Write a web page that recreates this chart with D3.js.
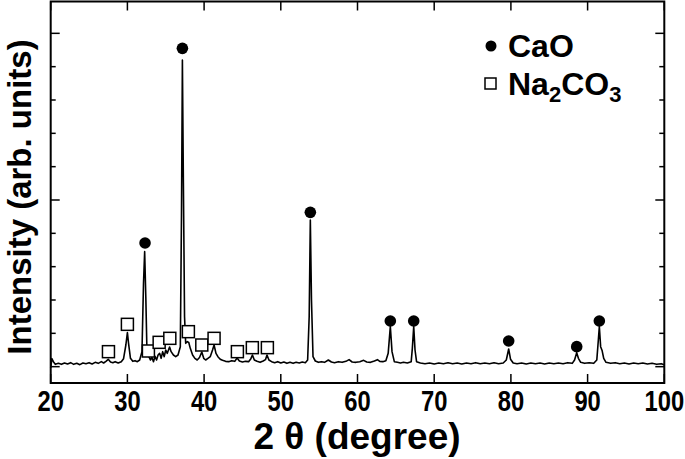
<!DOCTYPE html>
<html>
<head>
<meta charset="utf-8">
<script src="https://cdn.jsdelivr.net/npm/d3@7"></script>
<style>
  body { margin: 0; background: #fff; }
  text { font-family: "Liberation Sans", Arial, sans-serif; font-weight: bold; }
</style>
</head>
<body>
<div class="xrd"></div>
<script>
// XRD scan: [2theta, intensity]
var pattern = [
  [20.0, -8], [20.15, 48], [20.35, 30], [20.6, 14], [21.0, 20], [21.4, 14], [21.8, 22], [22.2, 16],
  [22.6, 24], [23.0, 14], [23.4, 20], [23.8, 12], [24.2, 22], [24.6, 18], [25.0, 24], [25.4, 16],
  [25.8, 26], [26.2, 20], [26.6, 30], [26.9, 22], [27.2, 32], [27.5, 44], [27.8, 28], [28.1, 24],
  [28.4, 30], [28.8, 22], [29.2, 30], [29.5, 48], [29.8, 130], [30.0, 205], [30.15, 140], [30.4, 50],
  [30.7, 32], [31.0, 36], [31.3, 30], [31.6, 40], [31.9, 90], [32.1, 500], [32.25, 690], [32.4, 420],
  [32.55, 90], [32.8, 60], [33.0, 40], [33.2, 55], [33.4, 30], [33.6, 62], [33.8, 40], [34.0, 70],
  [34.2, 80], [34.4, 50], [34.6, 90], [34.8, 60], [35.0, 100], [35.2, 80], [35.5, 118], [35.7, 90],
  [36.0, 70], [36.3, 60], [36.6, 70], [36.9, 120], [37.05, 900], [37.17, 1840], [37.3, 1100], [37.45, 300],
  [37.6, 140], [37.8, 150], [38.0, 145], [38.2, 110], [38.5, 70], [38.8, 50], [39.1, 40], [39.4, 55],
  [39.7, 88], [39.95, 50], [40.2, 40], [40.5, 50], [40.8, 60], [41.1, 100], [41.3, 130], [41.55, 80],
  [41.8, 60], [42.1, 45], [42.4, 38], [42.8, 32], [43.2, 30], [43.6, 36], [44.0, 32], [44.3, 52],
  [44.6, 34], [45.0, 28], [45.4, 32], [45.8, 30], [46.1, 48], [46.3, 70], [46.55, 40], [46.9, 32],
  [47.3, 26], [47.7, 34], [48.0, 42], [48.2, 70], [48.45, 40], [48.8, 30], [49.2, 24], [49.6, 30],
  [50.0, 22], [50.4, 28], [50.8, 20], [51.2, 26], [51.6, 20], [52.0, 26], [52.4, 22], [52.8, 28],
  [53.2, 24], [53.5, 40], [53.7, 300], [53.85, 880], [54.0, 400], [54.2, 60], [54.5, 34], [54.9, 26],
  [55.3, 30], [55.7, 26], [56.2, 40], [56.6, 28], [57.0, 24], [57.5, 30], [58.0, 26], [58.5, 32],
  [58.9, 42], [59.3, 28], [59.8, 26], [60.3, 30], [60.8, 38], [61.2, 28], [61.7, 26], [62.2, 34],
  [62.6, 42], [62.9, 32], [63.3, 30], [63.7, 36], [64.0, 80], [64.28, 240], [64.5, 90], [64.8, 30],
  [65.2, 26], [65.6, 22], [66.0, 26], [66.5, 22], [67.0, 30], [67.15, 110], [67.33, 240], [67.5, 100],
  [67.7, 30], [68.2, 22], [68.8, 18], [69.4, 22], [70.0, 16], [70.6, 22], [71.2, 18], [71.8, 24],
  [72.4, 18], [73.0, 22], [73.6, 16], [74.2, 22], [74.8, 18], [75.4, 24], [76.0, 18], [76.6, 22],
  [77.2, 18], [77.8, 24], [78.4, 18], [79.0, 22], [79.4, 40], [79.71, 106], [79.95, 45], [80.3, 22],
  [80.8, 18], [81.4, 22], [82.0, 16], [82.6, 22], [83.2, 18], [83.8, 22], [84.4, 16], [85.0, 22],
  [85.6, 18], [86.2, 22], [86.8, 18], [87.4, 24], [88.0, 20], [88.3, 40], [88.58, 84], [88.8, 50],
  [89.1, 26], [89.6, 20], [90.2, 24], [90.8, 20], [91.2, 40], [91.4, 160], [91.53, 240], [91.7, 120],
  [91.9, 95], [92.1, 50], [92.4, 26], [93.0, 20], [93.6, 24], [94.2, 18], [94.8, 22], [95.4, 16],
  [96.0, 22], [96.6, 18], [97.2, 22], [97.8, 16], [98.4, 20], [99.0, 14], [99.6, 18], [100.0, 12]
];

// phase markers: [2theta, intensity where the symbol sits]
var caoMarks = [[32.3, 742], [37.17, 1910], [53.85, 926], [64.28, 274], [67.33, 274], [79.71, 154], [88.58, 120], [91.53, 274]];
var na2co3Marks = [[27.53, 90], [30.0, 254], [32.74, 94], [34.14, 146], [35.53, 170], [37.95, 210],
  [39.7, 130], [41.3, 170], [44.34, 90], [46.29, 114], [48.25, 114]];

var xTicks = [20, 30, 40, 50, 60, 70, 80, 90, 100];
var yMajor = [0, 1000, 2000];
var yMinor = [200, 400, 600, 800, 1200, 1400, 1600, 1800];

var width = 685, height = 459;
// plot box (pixels); note: "top" is taken by window.top, so use other names
var plotL = 50.7, plotR = 664.3, plotT = 1.5, plotB = 383;

var svg = d3.select(".xrd")
  .append("svg")
    .attr("width", width)
    .attr("height", height);

var x = d3.scaleLinear().domain([20, 100]).range([plotL, plotR]);
var y = d3.scaleLinear().domain([-98, 2191]).range([plotB, plotT]);

// ticks inside the frame, all four sides
var ticks = svg.append("g").attr("stroke", "#000").attr("stroke-width", 1.5);
xTicks.forEach(function(t){
  ticks.append("line").attr("x1", x(t)).attr("x2", x(t)).attr("y1", plotB).attr("y2", plotB - 9);
  ticks.append("line").attr("x1", x(t)).attr("x2", x(t)).attr("y1", plotT).attr("y2", plotT + 9);
});
yMajor.forEach(function(t){
  ticks.append("line").attr("x1", plotL).attr("x2", plotL + 9).attr("y1", y(t)).attr("y2", y(t));
  ticks.append("line").attr("x1", plotR).attr("x2", plotR - 9).attr("y1", y(t)).attr("y2", y(t));
});
yMinor.forEach(function(t){
  ticks.append("line").attr("x1", plotL).attr("x2", plotL + 5).attr("y1", y(t)).attr("y2", y(t));
  ticks.append("line").attr("x1", plotR).attr("x2", plotR - 5).attr("y1", y(t)).attr("y2", y(t));
});

// tick labels (squeezed a bit, the original uses a narrow face)
svg.append("g")
  .selectAll("text")
  .data(xTicks)
  .join("text")
    .attr("transform", d => "translate(" + x(d) + ",411) scale(0.82,1)")
    .attr("text-anchor", "middle")
    .attr("font-size", 29)
    .text(d => d);

// the scan
var line = d3.line().x(d => x(d[0])).y(d => y(d[1]));
svg.append("path")
  .datum(pattern)
  .attr("d", line)
  .attr("fill", "none")
  .attr("stroke", "#000")
  .attr("stroke-width", 1.6)
  .attr("stroke-linejoin", "round");

// CaO dots
svg.append("g")
  .selectAll("circle")
  .data(caoMarks)
  .join("circle")
    .attr("cx", d => x(d[0]))
    .attr("cy", d => y(d[1]))
    .attr("r", 5.8)
    .attr("fill", "#000");

// Na2CO3 squares
svg.append("g")
  .selectAll("rect")
  .data(na2co3Marks)
  .join("rect")
    .attr("x", d => x(d[0]) - 6)
    .attr("y", d => y(d[1]) - 6)
    .attr("width", 12)
    .attr("height", 12)
    .attr("fill", "#fff")
    .attr("stroke", "#000")
    .attr("stroke-width", 1.5);

// frame
svg.append("rect")
  .attr("x", plotL).attr("y", plotT)
  .attr("width", plotR - plotL).attr("height", plotB - plotT)
  .attr("fill", "none")
  .attr("stroke", "#000")
  .attr("stroke-width", 2);

// legend
svg.append("circle").attr("cx", 491).attr("cy", 46).attr("r", 5.5).attr("fill", "#000");
svg.append("text").attr("x", 508).attr("y", 57).attr("font-size", 32).text("CaO");
svg.append("rect").attr("x", 485).attr("y", 78).attr("width", 11).attr("height", 11)
  .attr("fill", "#fff").attr("stroke", "#000").attr("stroke-width", 1.5);
var na = svg.append("text").attr("x", 508).attr("y", 95).attr("font-size", 32);
na.append("tspan").text("Na");
na.append("tspan").attr("dy", 7).attr("font-size", 22).text("2");
na.append("tspan").attr("dy", -7).text("CO");
na.append("tspan").attr("dy", 7).attr("font-size", 22).text("3");

// axis titles
svg.append("text")
  .attr("x", 357).attr("y", 449)
  .attr("text-anchor", "middle")
  .attr("font-size", 37)
  .text("2 θ (degree)");

svg.append("text")
  .attr("transform", "translate(31,197) rotate(-90)")
  .attr("text-anchor", "middle")
  .attr("font-size", 33)
  .text("Intensity (arb. units)");
</script>
</body>
</html>
